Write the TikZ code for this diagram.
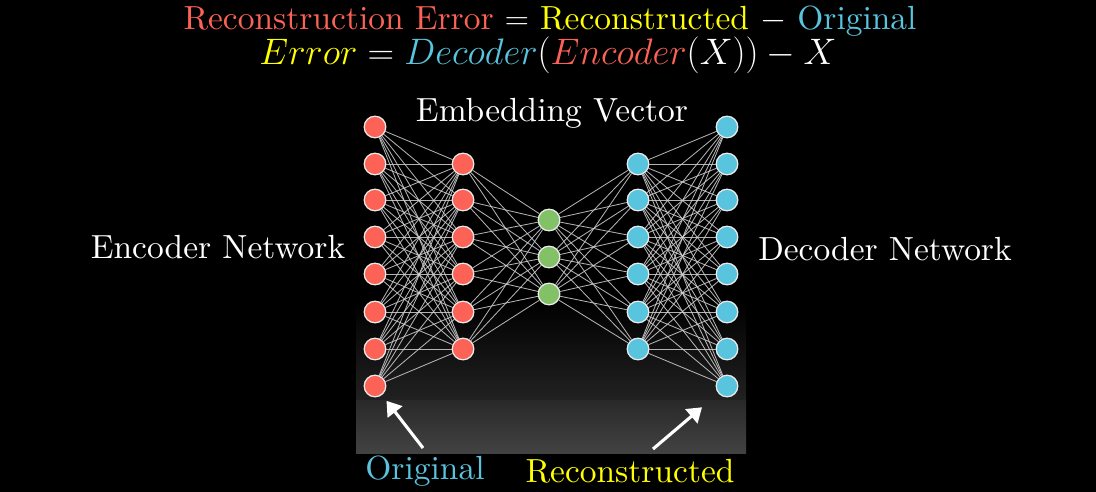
\RequirePackage{fix-cm}
\documentclass[tikz,border=0pt]{standalone}
\usepackage{fontspec}
\setmainfont{lmroman10-regular}[Extension=.otf, ItalicFont=lmroman10-italic]
\usepackage{tikz}
\usepackage{xcolor}
\usetikzlibrary{arrows.meta,positioning}

\definecolor{ered}{HTML}{FC6255}
\definecolor{eblue}{HTML}{58C4DD}
\definecolor{egreen}{HTML}{83C167}
\definecolor{eyell}{HTML}{FFFF00}

\tikzset{
    unit/.style={circle, minimum size=0.54cm, inner sep=0pt, draw=white!92!black, line width=0.9pt},
    link/.style={draw=white!82!black, line width=0.6pt, opacity=0.85},
    lbl/.style={text=white, font=\fontsize{23.8}{28}\selectfont, inner sep=0pt},
    pointer/.style={draw=white, line width=2.2pt, -{Triangle[length=10pt, width=13pt]}}
}

\begin{document}
\begin{tikzpicture}[x=0.025cm, y=-0.025cm]
                    \fill[black] (0, 0) rectangle (1096, 492);
                    % fading panel
                    \shade[top color=black, bottom color=white!13!black] (356, 300) rectangle (746, 400);
                    \shade[top color=white!16!black, bottom color=white!26!black] (356, 400) rectangle (746, 453);
                    % layers
                    \foreach \i/\y in {1/127, 2/164, 3/200, 4/237, 5/274, 6/312, 7/349, 8/386} {
                        \node[unit, fill=ered] (a\i) at (375, \y) {};
                        \node[unit, fill=eblue] (e\i) at (727, \y) {};
                    }
                    \foreach \i/\y in {1/164, 2/200, 3/237, 4/274, 5/312, 6/349} {
                        \node[unit, fill=ered] (b\i) at (463, \y) {};
                        \node[unit, fill=eblue] (d\i) at (638, \y) {};
                    }
                    \foreach \i/\y in {1/220, 2/257, 3/294}
                        \node[unit, fill=egreen] (c\i) at (549, \y) {};
                    % weights
                    \foreach \i in {1,...,8}
                        \foreach \j in {1,...,6} {
                            \draw[link] (a\i) -- (b\j);
                            \draw[link] (d\j) -- (e\i);
                        }
                    \foreach \i in {1,...,6}
                        \foreach \j in {1,...,3} {
                            \draw[link] (b\i) -- (c\j);
                            \draw[link] (c\j) -- (d\i);
                        }
                    % texts
                    \node[lbl] (rerr) at (550, 21) {\textcolor{ered}{Reconstruction Error} $=$ \textcolor{eyell}{Reconstructed} $-$ \textcolor{eblue}{Original}};
                    \node[lbl, font=\fontsize{26.2}{30}\selectfont] (ferr) at (548, 55) {$\textcolor{eyell}{Error} = \textcolor{eblue}{Decoder}(\textcolor{ered}{Encoder}(X)) - X$};
                    \node[lbl] (emb) at (552, 113) {Embedding Vector};
                    \node[lbl] (enc) at (218, 247) {Encoder Network};
                    \node[lbl] (dec) at (885, 249) {Decoder Network};
                    \node[lbl, text=eblue] (orig) at (425, 471) {Original};
                    \node[lbl, text=eyell] (recon) at (630, 471) {Reconstructed};
                    \coordinate (ot) at (423, 448);
                    \coordinate (rt) at (653, 449);
                    \draw[pointer, shorten >=0.47cm] (ot) -- (a8.center);
                    \draw[pointer, shorten >=0.82cm] (rt) -- (e8.center);
                \end{tikzpicture}
\end{document}
